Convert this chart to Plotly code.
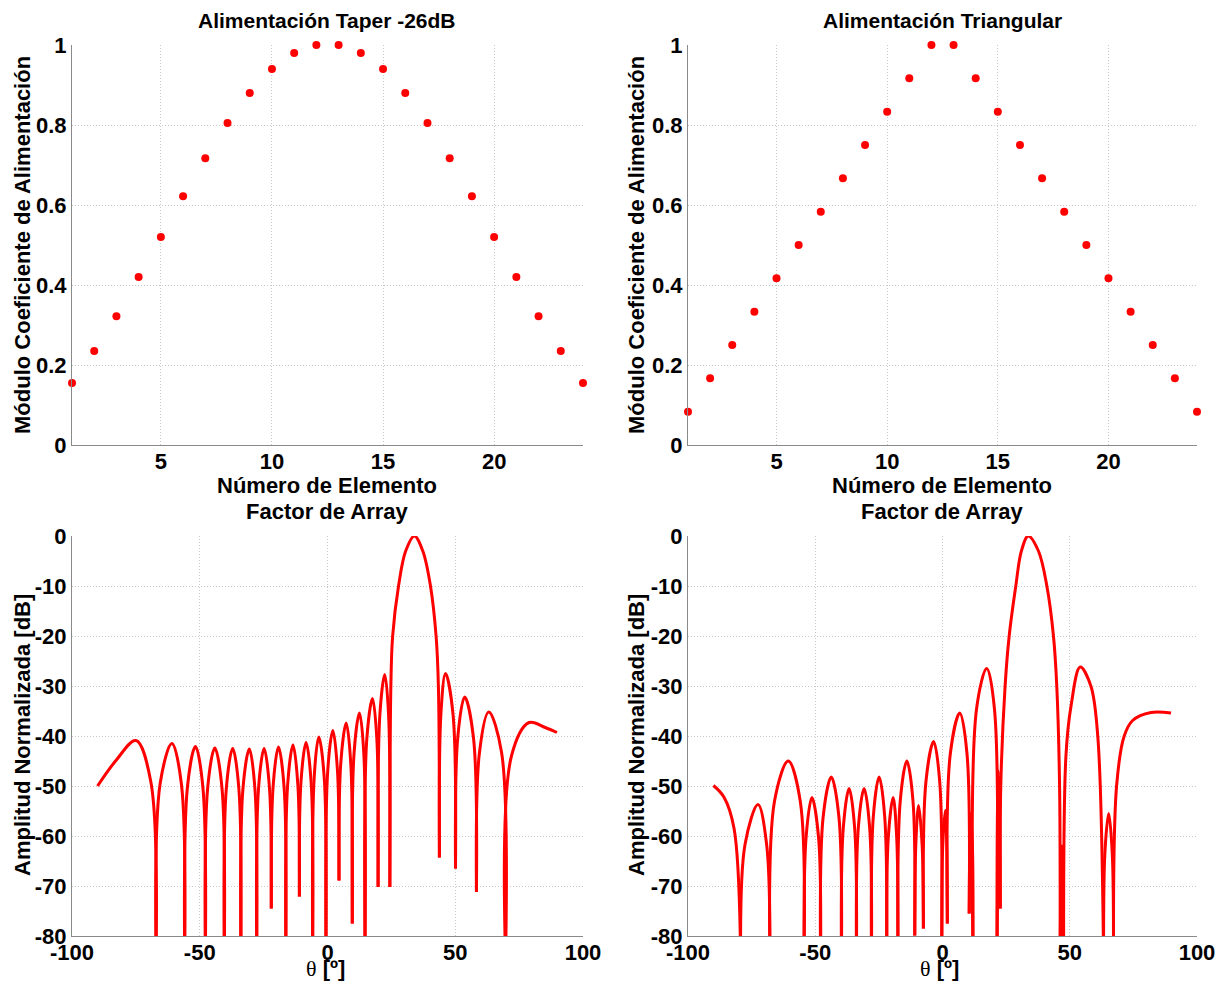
import plotly.graph_objects as go

# ---------------- data ----------------
elements = list(range(1, 25))
taper_26db = [0.155, 0.235, 0.322, 0.42, 0.52, 0.622, 0.717, 0.805, 0.88, 0.94, 0.98, 1.0,
              1.0, 0.98, 0.94, 0.88, 0.805, 0.717, 0.622, 0.52, 0.42, 0.322, 0.235, 0.155]
triangular = [0.083, 0.167, 0.25, 0.333, 0.417, 0.5, 0.583, 0.667, 0.75, 0.833, 0.917, 1.0,
              1.0, 0.917, 0.833, 0.75, 0.667, 0.583, 0.5, 0.417, 0.333, 0.25, 0.167, 0.083]

# Array factor (taper -26 dB): points read per lobe, None separates lobes
af_taper_theta = [
    -90, -82.8, -75, -69.2, -67.1, None,
    -67.1, -65.5, -60.9, -57.2, -55.9, None,
    -55.9, -54.8, -51.7, -48.8, -47.8, None,
    -47.8, -46.9, -44.1, -41.3, -40.4, None,
    -40.4, -39.6, -37.1, -34.7, -33.9, None,
    -33.9, -33.1, -30.6, -28.4, -27.7, None,
    -27.7, -27.0, -24.8, -22.7, -22.0, None,
    -22.0, -21.3, -19.2, -17.0, -16.3, None,
    -16.3, -15.6, -13.5, -11.6, -11.0, None,
    -11.0, -10.4, -8.4, -6.4, -5.8, None,
    -5.8, -5.2, -3.4, -1.3, -0.6, None,
    -0.6, 0.1, 2.1, 3.9, 4.5, None,
    4.5, 5.2, 7.3, 9.1, 9.7, None,
    9.7, 10.4, 12.5, 14.2, 14.7, None,
    14.7, 15.4, 17.6, 19.3, 19.8, None,
    19.8, 20.5, 22.4, 23.9, 24.4, None,
    24.4, 24.8, 25.5, 27.8, 30.6, 34.0, 37.3, 40.3, 42.5, 43.4, 43.8, None,
    43.8, 44.4, 46.2, 49.1, 50.1, None,
    50.1, 51.0, 53.7, 57.1, 58.3, None,
    58.3, 59.5, 63.1, 68.1, 69.7, None,
    69.7, 72.0, 78.9, 85.2, 89.8,
]
af_taper_db = [
    -50, -44.9, -40.9, -49, -85, None,
    -85, -49.5, -41.5, -49.5, -85, None,
    -85, -50.1, -42.1, -50.1, -85, None,
    -85, -50.4, -42.4, -50.4, -85, None,
    -85, -50.5, -42.5, -50.5, -85, None,
    -85, -50.6, -42.6, -50.6, -85, None,
    -85, -50.5, -42.5, -50.5, -74.5, None,
    -74.5, -50.2, -42.2, -50.2, -85, None,
    -85, -49.8, -41.8, -49.8, -72.1, None,
    -72.1, -49.3, -41.3, -49.3, -85, None,
    -85, -48.2, -40.2, -48.2, -85, None,
    -85, -46.9, -38.9, -46.9, -68.9, None,
    -68.9, -45.4, -37.4, -45.4, -77.5, None,
    -77.5, -43.4, -35.4, -43.4, -85, None,
    -85, -40.5, -32.5, -40.5, -70.2, None,
    -70.2, -35.7, -27.7, -35.7, -70.2, None,
    -70.2, -30, -20, -10, -3, 0, -3, -10, -20, -30, -64.3, None,
    -64.3, -35.5, -27.5, -35.5, -66.5, None,
    -66.5, -40.2, -32.2, -40.2, -71.2, None,
    -71.2, -43.2, -35.2, -43.2, -85, None,
    -85, -44, -37.3, -38.3, -39.3,
]

# Array factor (triangular)
af_tri_theta = [
    -90, -85.9, -81.9, -79.3, None,
    -79.3, -77.6, -72.5, -69.1, -67.8, None,
    -67.8, -66.0, -60.6, -55.9, -54.4, None,
    -54.4, -53.6, -51.3, -48.7, -47.9, None,
    -47.9, -46.9, -43.7, -40.7, -39.7, None,
    -39.7, -39.0, -36.7, -34.5, -33.8, None,
    -33.8, -33.1, -30.8, -28.6, -27.9, None,
    -27.9, -27.2, -24.9, -22.7, -21.9, None,
    -21.9, -21.3, -19.4, -18.0, -17.5, None,
    -17.5, -16.6, -14.0, -11.6, -10.9, None,
    -10.9, -10.5, -9.4, -8.0, -7.5, None,
    -7.5, -6.5, -3.5, -1.1, -0.3, None,
    -0.3, 0.1, 1.1, 1.7, 1.9, None,
    1.9, 3.1, 6.8, 9.6, 10.5, None,
    10.5, 10.7, 11.1, 11.8, 12.0, None,
    12.0, 13.4, 17.4, 20.4, 21.4, None,
    21.4, 21.6, 22.0, 22.5, 22.7, None,
    22.7, 22.9, 24.6, 26.2, 28.8, 31.0, 33.7, 37.7, 41.0, 43.6, 44.9, 46.0, 46.2, None,
    46.2, 46.9, 47.6, None,
    47.6, 48.5, 50.5, 54.1, 58.3, 61.0, 63.3, None,
    63.3, 63.8, 65.3, 66.7, 67.2, None,
    67.2, 68.4, 71.4, 74.7, 81.9, 89.8,
]
af_tri_db = [
    -49.9, -52.2, -58.5, -85, None,
    -85, -61.7, -53.7, -61.7, -85, None,
    -85, -53.0, -45.0, -53.0, -85, None,
    -85, -60.3, -52.3, -60.3, -85, None,
    -85, -56.2, -48.2, -56.2, -85, None,
    -85, -58.5, -50.5, -58.5, -85, None,
    -85, -58.5, -50.5, -58.5, -85, None,
    -85, -56.2, -48.2, -56.2, -85, None,
    -85, -60.3, -52.3, -60.3, -85, None,
    -85, -53.0, -45.0, -53.0, -79.9, None,
    -79.9, -61.9, -53.9, -61.9, -78.5, None,
    -78.5, -49.1, -41.1, -49.1, -85, None,
    -85, -62, -54.9, -62, -77.5, None,
    -77.5, -43.4, -35.4, -43.4, -75.5, None,
    -75.5, -63, -55.5, -63, -85, None,
    -85, -34.5, -26.5, -34.5, -85, None,
    -85, -55, -47, -55, -74.5, None,
    -74.5, -50, -30, -20, -10, -3, 0, -3, -10, -20, -30, -50, -85, None,
    -85, -62, -85, None,
    -85, -44, -34, -26.2, -30, -40, -85, None,
    -85, -63.5, -55.5, -63.5, -85, None,
    -85, -50, -40, -36.9, -35.3, -35.4,
]

top_titles = ["Alimentación Taper -26dB", "Alimentación Triangular"]
bottom_title = "Factor de Array"
top_xlabel = "Número de Elemento"
top_ylabel = "Módulo Coeficiente de Alimentación"
bottom_ylabel = "Amplitud Normalizada [dB]"
top_xticks = [5, 10, 15, 20]
top_yticks = [0, 0.2, 0.4, 0.6, 0.8, 1]
top_yticklabels = ["0", "0.2", "0.4", "0.6", "0.8", "1"]
bottom_xticks = [-100, -50, 0, 50, 100]
bottom_xticklabels = ["-100", "-50", "0", "50", "100"]
bottom_yticks = [0, -10, -20, -30, -40, -50, -60, -70, -80]
bottom_yticklabels = ["0", "-10", "-20", "-30", "-40", "-50", "-60", "-70", "-80"]

# ---------------- figure ----------------
# the page body adds an 8 px margin, so the figure starts at (8, 8) in the window
OFF = 8
W, H = 1229 - 2 * OFF, 990 - 2 * OFF
RED = "#ff0000"
FONT = "Liberation Sans, Arial, sans-serif"


def px(x):
    return (x - OFF) / W


def py(y):
    return 1 - (y - OFF) / H


fig = go.Figure()

fig.add_trace(go.Scatter(x=elements, y=taper_26db, mode="markers",
                         marker=dict(color=RED, size=8), cliponaxis=False,
                         xaxis="x", yaxis="y", showlegend=False))
fig.add_trace(go.Scatter(x=elements, y=triangular, mode="markers",
                         marker=dict(color=RED, size=8), cliponaxis=False,
                         xaxis="x2", yaxis="y2", showlegend=False))
fig.add_trace(go.Scatter(x=af_taper_theta, y=af_taper_db, mode="lines",
                         line=dict(color=RED, width=3, shape="spline", smoothing=1.0),
                         connectgaps=False, xaxis="x3", yaxis="y3", showlegend=False))
fig.add_trace(go.Scatter(x=af_tri_theta, y=af_tri_db, mode="lines",
                         line=dict(color=RED, width=3, shape="spline", smoothing=1.0),
                         connectgaps=False, xaxis="x4", yaxis="y4", showlegend=False))

col_dom = [[px(72), px(583)], [px(688), px(1197)]]
row_dom = [[py(445), py(45)], [py(936), py(536)]]

tickfont = dict(family=FONT, size=22, color="black", weight="bold")
common = dict(showgrid=True, gridcolor="#c8c8c8", griddash="1px,2px", gridwidth=1,
              showline=True, linecolor="#8a8a8a", linewidth=1, zeroline=False,
              ticks="", tickfont=tickfont, fixedrange=True, automargin=False)
xcommon = dict(common, ticklabelstandoff=-3)

layout = dict(
    width=W, height=H, margin=dict(l=0, r=0, t=0, b=0, autoexpand=False),
    plot_bgcolor="white", paper_bgcolor="white", showlegend=False,
)
# top row
layout["xaxis"] = dict(domain=col_dom[0], anchor="y", range=[1, 24], tickvals=top_xticks, **xcommon)
layout["yaxis"] = dict(domain=row_dom[0], anchor="x", range=[0, 1], tickvals=top_yticks,
                       ticktext=top_yticklabels, **common)
layout["xaxis2"] = dict(domain=col_dom[1], anchor="y2", range=[1, 24], tickvals=top_xticks, **xcommon)
layout["yaxis2"] = dict(domain=row_dom[0], anchor="x2", range=[0, 1], tickvals=top_yticks,
                        ticktext=top_yticklabels, **common)
# bottom row
layout["xaxis3"] = dict(domain=col_dom[0], anchor="y3", range=[-100, 100], tickvals=bottom_xticks,
                        ticktext=bottom_xticklabels, **xcommon)
layout["yaxis3"] = dict(domain=row_dom[1], anchor="x3", range=[-80, 0], tickvals=bottom_yticks,
                        ticktext=bottom_yticklabels, **common)
layout["xaxis4"] = dict(domain=col_dom[1], anchor="y4", range=[-100, 100], tickvals=bottom_xticks,
                        ticktext=bottom_xticklabels, **xcommon)
layout["yaxis4"] = dict(domain=row_dom[1], anchor="x4", range=[-80, 0], tickvals=bottom_yticks,
                        ticktext=bottom_yticklabels, **common)

fig.update_layout(**layout)

ann_font = dict(family=FONT, size=22, color="black", weight="bold")


def add_text(text, x, y, angle=0, yanchor="middle", size=22):
    fig.add_annotation(text=text, x=px(x), y=py(y), xref="paper", yref="paper",
                       xanchor="center", yanchor=yanchor, showarrow=False, borderpad=0,
                       textangle=angle, font=dict(ann_font, size=size))


add_text(top_titles[0], 327, 8, yanchor="top", size=21)
add_text(top_titles[1], 942, 8, yanchor="top", size=21)
for cx in (327, 942):
    add_text(top_xlabel, cx, 485)
    add_text(bottom_title, cx, 511)
    add_text("<span style='font-family:Liberation Serif;font-weight:normal'>θ</span> [º]",
             cx - 2, 982, yanchor="bottom")
for cx in (22, 636):
    add_text(top_ylabel, cx, 245, -90)
    add_text(bottom_ylabel, cx, 735, -90)

fig.write_html("out.html")
